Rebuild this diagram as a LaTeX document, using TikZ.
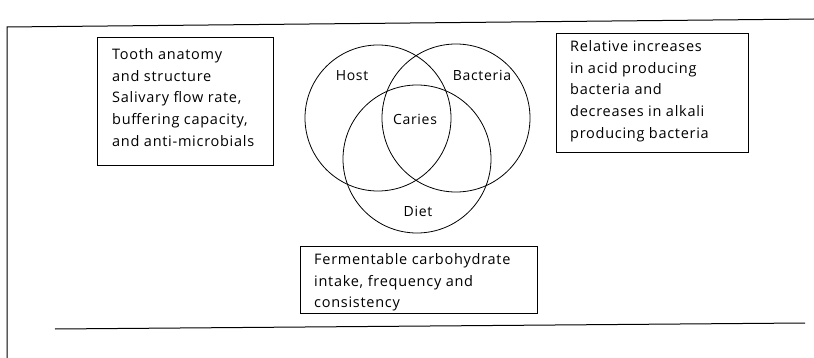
\documentclass[tikz,border=0pt]{standalone}
\usepackage{fontspec}
\setmainfont{Open Sans}[LetterSpace=5]
\begin{document}
\begin{tikzpicture}[x=1pt,y=-1pt,
  txt/.style={font=\fontsize{14.5}{21.8}\selectfont, align=left, inner sep=0pt, anchor=north west},
  lbl/.style={font=\fontsize{14}{16}\selectfont, inner sep=0pt},
  panel/.style={draw, line width=0.9pt, rectangle, inner sep=0pt, anchor=north west},
  ring/.style={draw, line width=0.8pt, circle, inner sep=0pt},
  frameline/.style={line width=1pt}]
\useasboundingbox (0,0) rectangle (814,358);

% outer frame of the figure
\draw[frameline] (7,358) -- (7,27) -- (814,19);
\draw[frameline] (55,329) -- (805,323);

% three overlapping factor circles
\node[ring, minimum size=146pt] (host) at (378,118) {};
\node[ring, minimum size=148pt] (bacteria) at (456,118) {};
\node[ring, minimum size=148pt] (diet) at (417,159) {};

\node[lbl] (hostlbl) at (352,76) {Host};
\node[lbl] (bactlbl) at (482,75) {Bacteria};
\node[lbl] (carieslbl) at (415,119) {Caries};
\node[lbl] (dietlbl) at (418,211) {Diet};

% host factors
\node[panel, minimum width=176pt, minimum height=128pt] (hostbox) at (97,37) {};
\node[txt] (hosttxt) at (112,48) {Tooth anatomy\\and structure\\Salivary flow rate,\\buffering capacity,\\and anti-microbials};

% bacterial factors
\node[panel, minimum width=192pt, minimum height=119pt] (bactbox) at (556,33) {};
\node[txt] (bacttxt) at (570,40) {Relative increases\\in acid producing\\bacteria and\\decreases in alkali\\producing bacteria};

% dietary factors
\node[panel, minimum width=237pt, minimum height=67pt] (dietbox) at (300,246) {};
\node[txt] (diettxt) at (314,253) {Fermentable carbohydrate\\intake, frequency and\\consistency};
\end{tikzpicture}
\end{document}
